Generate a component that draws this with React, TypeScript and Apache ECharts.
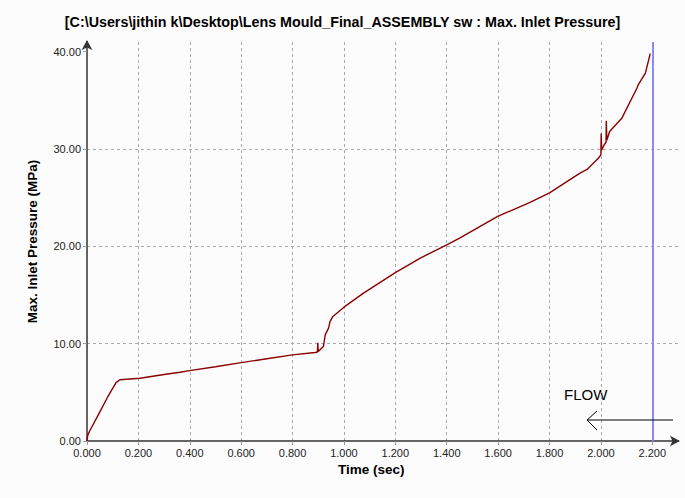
import React, { useEffect, useRef } from "react";
import * as echarts from "echarts";

const titleText = "[C:\\Users\\jithin k\\Desktop\\Lens Mould_Final_ASSEMBLY sw : Max. Inlet Pressure]";
const xAxisName = "Time (sec)";
const yAxisName = "Max. Inlet Pressure (MPa)";
const flowLabel = "FLOW";

const xTicks = [0, 0.2, 0.4, 0.6, 0.8, 1.0, 1.2, 1.4, 1.6, 1.8, 2.0, 2.2];
const yTicks = [0, 10, 20, 30, 40];

const timeSec = [
  0, 0.003, 0.01, 0.05, 0.08, 0.113, 0.128, 0.206, 0.3, 0.362, 0.4, 0.5, 0.6, 0.7, 0.8,
  0.888, 0.897, 0.898, 0.9, 0.91, 0.92, 0.927, 0.94, 0.946, 0.957, 1.0, 1.076, 1.2,
  1.297, 1.4, 1.45, 1.6, 1.722, 1.8, 1.917, 1.946, 1.99, 2.0, 2.001, 2.003, 2.012,
  2.02, 2.021, 2.023, 2.034, 2.082, 2.141, 2.145, 2.173, 2.192,
];
const inletPressure = [
  0, 0.6, 1.0, 3.0, 4.5, 6.0, 6.3, 6.45, 6.83, 7.07, 7.23, 7.63, 8.05, 8.45, 8.85,
  9.1, 9.15, 10.1, 9.2, 9.45, 9.7, 10.9, 11.6, 12.3, 12.8, 13.75, 15.2, 17.3,
  18.8, 20.15, 20.85, 23.1, 24.5, 25.5, 27.5, 27.9, 29.05, 29.4, 31.6, 29.9, 30.4,
  30.7, 32.9, 30.9, 31.8, 33.2, 36.3, 36.6, 37.8, 39.8,
];
const endTime = 2.2;

export default function App() {
  const ref = useRef<HTMLDivElement>(null);
  useEffect(() => {
    document.body.style.margin = "0";
    if (!ref.current) return;
    const chart = echarts.init(ref.current, null, { renderer: "svg" });
    const font = "'Liberation Sans', Arial, sans-serif";
    chart.setOption({
      animation: false,
      backgroundColor: "#fcfcfc",
      textStyle: { fontFamily: font },
      title: {
        text: titleText,
        left: "center",
        top: 10,
        textStyle: { fontSize: 14.3, fontWeight: "bold", color: "#000", fontFamily: font },
      },
      grid: { left: 87, right: 7, top: 42, bottom: 57 },
      xAxis: {
        type: "value",
        min: 0,
        max: 2.3,
        interval: 0.2,
        axisLine: {
          show: true,
          onZero: false,
          lineStyle: { color: "#333", width: 1.5 },
          symbol: ["none", "arrow"],
          symbolSize: [8, 10],
          symbolOffset: [0, 2],
        },
        axisTick: {
          show: true,
          length: 5,
          customValues: xTicks,
          lineStyle: { color: "#999", type: "dashed" },
        },
        axisLabel: {
          customValues: xTicks,
          formatter: (v: number) => v.toFixed(3),
          fontSize: 11,
          color: "#222",
          margin: 6,
        },
        splitLine: {
          show: true,
          showMinLine: false,
          showMaxLine: false,
          lineStyle: { color: "#aaa", type: [3, 3], width: 1 },
        },
      },
      yAxis: {
        type: "value",
        min: 0,
        max: 41,
        interval: 10,
        name: yAxisName,
        nameLocation: "middle",
        nameGap: 48,
        nameTextStyle: { fontSize: 13.5, fontWeight: "bold", color: "#000" },
        axisLine: {
          show: true,
          lineStyle: { color: "#333", width: 1.5 },
          symbol: ["none", "arrow"],
          symbolSize: [8, 10],
          symbolOffset: [0, 2],
        },
        axisTick: {
          show: true,
          length: 4,
          customValues: yTicks,
          lineStyle: { color: "#999" },
        },
        axisLabel: {
          customValues: yTicks,
          formatter: (v: number) => v.toFixed(2),
          fontSize: 11,
          color: "#222",
          margin: 6,
        },
        splitLine: {
          show: true,
          showMinLine: false,
          showMaxLine: false,
          lineStyle: { color: "#aaa", type: [3, 3], width: 1 },
        },
      },
      series: [
        {
          type: "line",
          data: timeSec.map((t, i) => [t, inletPressure[i]]),
          showSymbol: false,
          lineStyle: { color: "#8b0000", width: 1.4 },
          z: 3,
          markLine: {
            silent: true,
            symbol: ["none", "none"],
            label: { show: false },
            lineStyle: { color: "#8a8aff", width: 2, type: "solid" },
            data: [{ xAxis: endTime }],
            z: 4,
          },
        },
      ],
      graphic: [
        {
          type: "text",
          left: 338,
          top: 462,
          style: { text: xAxisName, fill: "#000", font: `bold 13.5px ${font}` },
        },
        {
          type: "text",
          left: 564,
          top: 387,
          style: { text: flowLabel, fill: "#000", font: `15px ${font}` },
        },
        {
          type: "polyline",
          shape: { points: [[673, 420], [587, 420]] },
          style: { stroke: "#000", lineWidth: 1, fill: "none" },
          z: 10,
        },
        {
          type: "polyline",
          shape: { points: [[597, 411], [587, 420], [597, 430]] },
          style: { stroke: "#000", lineWidth: 1, fill: "none" },
          z: 10,
        },
      ],
    });
    return () => chart.dispose();
  }, []);
  return <div ref={ref} style={{ width: 685, height: 498 }} />;
}
